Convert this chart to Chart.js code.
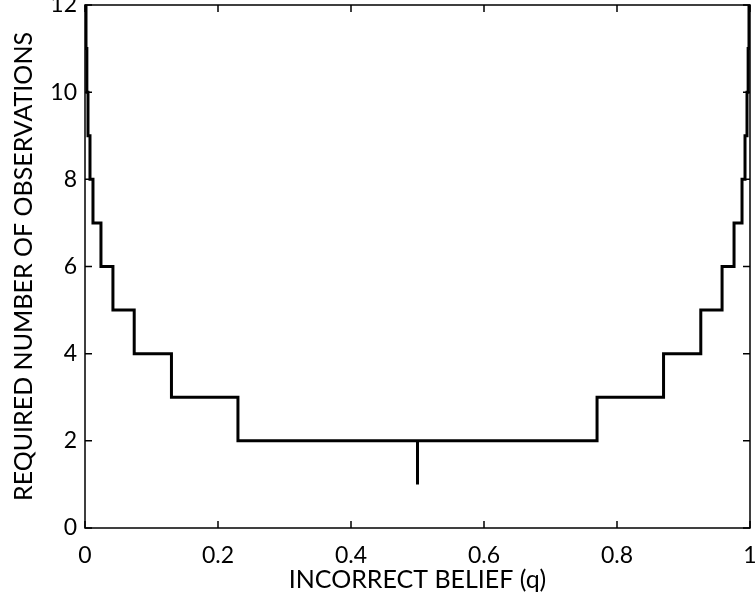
<!DOCTYPE html>
<html>
<head>
<meta charset="utf-8">
<script src="https://cdn.jsdelivr.net/npm/chart.js@4.4.0/dist/chart.umd.min.js"></script>
<style>
  html, body { margin: 0; padding: 0; background: #fff; }
  #wrap { width: 756px; height: 604px; }
</style>
</head>
<body>
<div id="wrap"><canvas id="obsChart" width="756" height="604"></canvas></div>
<script>
// step curve: required observations vs incorrect belief q
// each n holds from the previous q up to its own q
const beliefQ = [0, 0.0006, 0.0015, 0.0028, 0.0045, 0.0075, 0.012, 0.024, 0.042, 0.074, 0.13, 0.23,
  0.5, 0.5, 0.77, 0.87, 0.926, 0.958, 0.976, 0.988, 0.9925, 0.9955, 0.9972, 0.9985, 0.9994, 1];
const requiredN = [13, 12, 11, 10, 9, 8, 7, 6, 5, 4, 3, 2,
  1, 2, 3, 4, 5, 6, 7, 8, 9, 10, 11, 12, 13, 13];
const xTickVals = [0, 0.2, 0.4, 0.6, 0.8, 1];
const yTickVals = [0, 2, 4, 6, 8, 10, 12];

const FONT = "Lato, 'Open Sans', sans-serif";

const points = beliefQ.map((q, i) => ({ x: q, y: requiredN[i] }));

// no extra label padding around the plot
function noPad(s) {
  s.paddingLeft = 0;
  s.paddingRight = 0;
  s.paddingTop = 0;
  s.paddingBottom = 0;
}

// matlab style box with ticks pointing inward
const boxTicks = {
  id: "boxTicks",
  afterDraw(chart) {
    const ctx = chart.ctx;
    const a = chart.chartArea;
    const xs = chart.scales.x;
    const ys = chart.scales.y;
    const len = 7;
    ctx.save();
    ctx.strokeStyle = "#000";
    ctx.lineWidth = 1.5;
    ctx.strokeRect(a.left, a.top, a.right - a.left, a.bottom - a.top);
    ctx.beginPath();
    xTickVals.forEach((v) => {
      const px = xs.getPixelForValue(v);
      ctx.moveTo(px, a.bottom);
      ctx.lineTo(px, a.bottom - len);
      ctx.moveTo(px, a.top);
      ctx.lineTo(px, a.top + len);
    });
    yTickVals.forEach((v) => {
      const py = ys.getPixelForValue(v);
      ctx.moveTo(a.left, py);
      ctx.lineTo(a.left + len, py);
      ctx.moveTo(a.right, py);
      ctx.lineTo(a.right - len, py);
    });
    ctx.stroke();
    ctx.restore();
  },
};

const ctx = document.getElementById("obsChart").getContext("2d");
const obsChart = new Chart(ctx, {
  type: "scatter",
  data: {
    datasets: [
      {
        data: points,
        showLine: true,
        stepped: "before",
        borderColor: "#000",
        borderWidth: 3,
        pointRadius: 0,
        fill: false,
      },
    ],
  },
  options: {
    responsive: false,
    animation: false,
    layout: {
      autoPadding: false,
      padding: { left: 0, right: 6, top: 5, bottom: 0 },
    },
    plugins: {
      legend: { display: false },
      tooltip: { enabled: false },
    },
    scales: {
      x: {
        type: "linear",
        min: 0,
        max: 1,
        afterBuildTicks: (s) => {
          s.ticks = xTickVals.map((v) => ({ value: v }));
        },
        afterFit: (s) => {
          s.height = 76;
          noPad(s);
        },
        grid: { display: false, drawTicks: false },
        border: { display: false },
        ticks: {
          color: "#000",
          padding: 14,
          font: { family: FONT, size: 23 },
          maxRotation: 0,
          callback: (v) => String(v),
        },
        title: {
          display: true,
          text: "INCORRECT BELIEF (q)",
          color: "#000",
          font: { family: FONT, size: 25 },
          padding: { top: 0, bottom: 9 },
        },
      },
      y: {
        type: "linear",
        min: 0,
        max: 12,
        afterBuildTicks: (s) => {
          s.ticks = yTickVals.map((v) => ({ value: v }));
        },
        afterFit: (s) => {
          s.width = 85;
          noPad(s);
        },
        grid: { display: false, drawTicks: false },
        border: { display: false },
        ticks: {
          color: "#000",
          padding: 8,
          font: { family: FONT, size: 23 },
        },
        title: {
          display: true,
          text: "REQUIRED NUMBER OF OBSERVATIONS",
          color: "#000",
          font: { family: FONT, size: 25 },
          padding: { top: 9, bottom: 0 },
        },
      },
    },
  },
  plugins: [boxTicks],
});
</script>
</body>
</html>
